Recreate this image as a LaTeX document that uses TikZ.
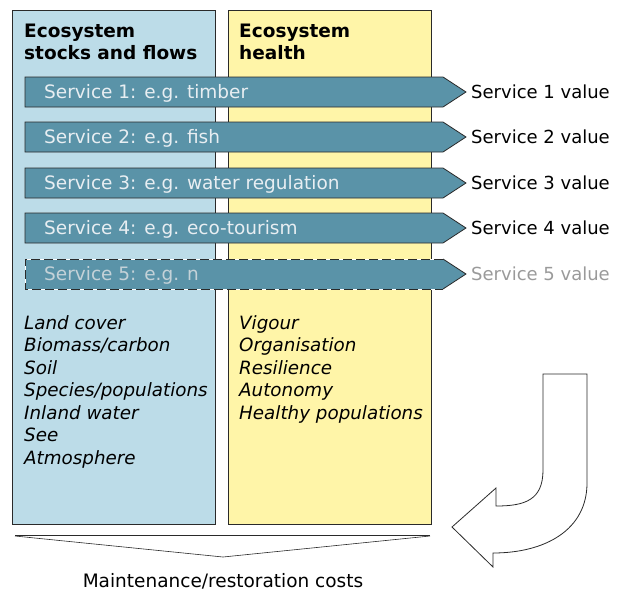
\documentclass[tikz,border=0pt]{standalone}
\usepackage{fontspec}
\setmainfont{DejaVu Sans}
\definecolor{bluebg}{HTML}{BCDCE8}
\definecolor{yellowbg}{HTML}{FFF5A8}
\definecolor{arrowfill}{HTML}{5A93A8}
\definecolor{edge}{HTML}{2A2A2A}
\definecolor{labtext}{HTML}{E8EEF2}
\definecolor{fadetext}{HTML}{C4D2D8}
\definecolor{fadegray}{HTML}{9A9A9A}
\begin{document}
\begin{tikzpicture}[x=1pt,y=-1pt,
  panel/.style={draw=edge, line width=0.8pt},
  svc/.style={fill=arrowfill, draw=edge, line width=0.8pt},
  svclabel/.style={anchor=base west, inner sep=0pt, text=labtext, font=\fontsize{18.5}{20}\selectfont},
  vallabel/.style={anchor=base west, inner sep=0pt, font=\fontsize{18}{20}\selectfont},
  head/.style={anchor=base west, inner sep=0pt, font=\bfseries\fontsize{18.5}{21.8}\selectfont, align=left},
  listtext/.style={anchor=base west, inner sep=0pt, font=\itshape\fontsize{18.3}{22.5}\selectfont, align=left}
]
\useasboundingbox (0,0) rectangle (618,592);
% panels
\draw[panel, fill=bluebg] (12,10) rectangle (215,524);
\draw[panel, fill=yellowbg] (228,10) rectangle (431,524);
\node[head] (h1) at (24,59.3) {Ecosystem\\stocks and flows};
\node[head] (h2) at (239,59.3) {Ecosystem\\health};
% service arrows
\foreach \i/\yc/\txt in {1/92/timber, 2/137/fish, 3/183/water regulation, 4/228/eco-tourism}{
  \draw[svc] (25,\yc-15) -- (443,\yc-15) -- (466,\yc) -- (443,\yc+15) -- (25,\yc+15) -- cycle;
  \node[svclabel] (s\i) at (44,\yc+6.5) {Service \i: e.g. \txt};
  \node[vallabel] (v\i) at (471,\yc+6.5) {Service \i\ value};
}
\fill[arrowfill] (25,259) -- (443,259) -- (466,274) -- (443,289) -- (25,289) -- cycle;
\draw[white, line width=0.8pt] (25,259) -- (443,259) (443,289) -- (25,289) -- (25,259);
\draw[edge, line width=0.8pt, dash pattern=on 9pt off 4pt] (443,259) -- (25,259) -- (25,289) -- (443,289);
\draw[edge, line width=0.8pt] (443,259) -- (466,274) -- (443,289);
\node[svclabel, text=fadetext] (s5) at (44,280.5) {Service 5: e.g. n};
\node[vallabel, text=fadegray] (v5) at (471,280.5) {Service 5 value};
% lists
\node[listtext] (l1) at (24,464) {Land cover\\Biomass/carbon\\Soil\\Species/populations\\Inland water\\See\\Atmosphere};
\node[listtext] (l2) at (239,419) {Vigour\\Organisation\\Resilience\\Autonomy\\Healthy populations};
% U-turn arrow
\draw[edge, line width=0.8pt, fill=white]
  (543,374) -- (587,374) -- (587,483)
  .. controls (587,530) and (545,553) .. (493,553)
  -- (493,567) -- (452,527) -- (496,488) -- (496,506)
  .. controls (525,506) and (543,500) .. (543,470) -- cycle;
% bottom brace
\draw[edge, line width=0.8pt] (15,535) -- (430,535);
\draw[edge, line width=0.6pt] (15,536) -- (223,557) -- (430,536);
\node[anchor=base, inner sep=0pt, font=\fontsize{18.5}{20}\selectfont] (cost) at (223,587) {Maintenance/restoration costs};
\end{tikzpicture}
\end{document}
